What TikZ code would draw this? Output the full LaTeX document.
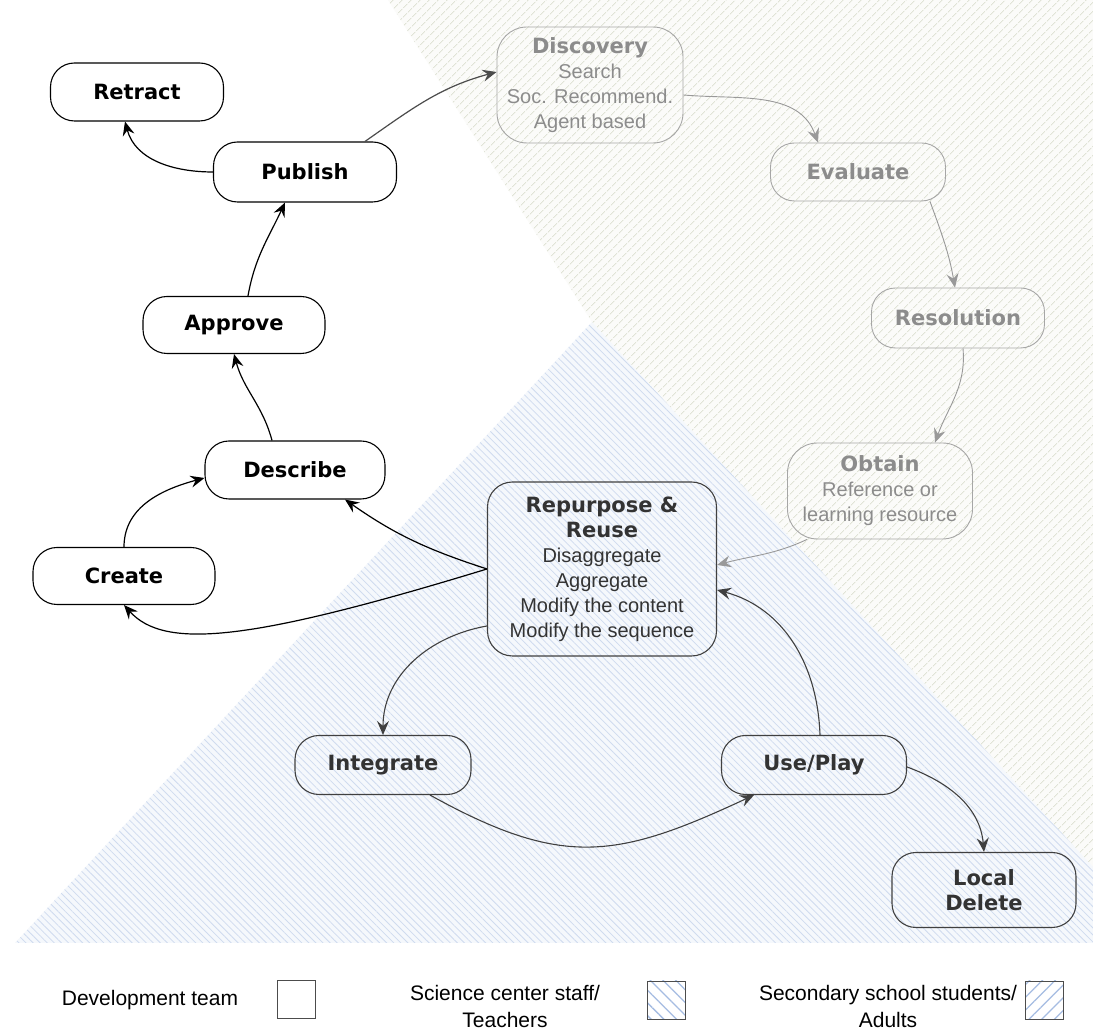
\documentclass[tikz,border=0pt]{standalone}
\usepackage{fontspec}
\setmainfont{Liberation Sans}
\newfontfamily\headfont{DejaVu Sans}
\usetikzlibrary{arrows.meta, patterns.meta}

\definecolor{sagebg}{RGB}{251,251,249}
\definecolor{sageline}{RGB}{224,227,214}
\definecolor{bluebg}{RGB}{245,248,252}
\definecolor{blueline}{RGB}{207,219,239}
\definecolor{keyline}{RGB}{165,188,226}

\newcommand{\hd}[1]{{\headfont\bfseries\fontsize{21}{25}\selectfont #1}}

\begin{document}
\begin{tikzpicture}[
            x = 1pt, y = 1pt, % one unit = one pixel of the sketch
            > = {Stealth[length=14pt, width=12pt, inset=5pt]}, % arrow head style
            semithick % line style
        ]

        \tikzstyle{every node}=[font=\fontsize{20}{25}\selectfont]
        \tikzstyle{stage}=[
            draw = black,
            line width = 1.1pt,
            rounded corners = 24pt,
            minimum width = 180pt,
            minimum height = 58pt,
            inner sep = 6pt,
            align = center
        ]
        \tikzstyle{reuse stage}=[stage, draw=black!75, text=black!80]
        \tikzstyle{faded stage}=[stage, draw=black!35, text=black!45, line width=0.9pt]
        \tikzstyle{flow}=[->, line width=1.2pt, black]
        \tikzstyle{reuse flow}=[->, line width=1.1pt, black!75]
        \tikzstyle{faded flow}=[->, line width=0.9pt, black!40]
        \tikzstyle{keybox}=[draw=black!70, line width=0.8pt, minimum size=38pt, inner sep=0pt]
        \tikzstyle{keytext}=[align=center, font=\fontsize{21}{27}\selectfont]

        \useasboundingbox (0,0) rectangle (1093,1030);
        \fill[white] (0,0) rectangle (1093,1030);

        % audience regions
        \fill[sagebg, postaction={pattern={Lines[angle=45, distance=6.5pt, line width=0.9pt]}, pattern color=sageline}]
            (388,1030) -- (1093,1030) -- (1093,163) -- (592,708) -- cycle;
        \fill[bluebg, postaction={pattern={Lines[angle=-45, distance=5pt, line width=0.8pt]}, pattern color=blueline}]
            (592,708) -- (1093,163) -- (1093,87) -- (15,87) -- cycle;

        % development team
        \node[stage, minimum width=173pt] (Retract) at (137,938) {\hd{Retract}};
        \node[stage, minimum width=183pt, minimum height=60pt] (Publish) at (305,858) {\hd{Publish}};
        \node[stage, minimum width=182pt, minimum height=57pt] (Approve) at (234,705) {\hd{Approve}};
        \node[stage] (Describe) at (295,560) {\hd{Describe}};
        \node[stage, minimum width=182pt, minimum height=57pt] (Create) at (124,454) {\hd{Create}};

        % secondary school students / adults
        \node[faded stage, minimum width=186pt, minimum height=116pt, rounded corners=30pt] (Discovery) at (590,945)
            {\hd{Discovery}\\Search\\Soc. Recommend.\\Agent based};
        \node[faded stage, minimum width=175pt] (Evaluate) at (858,858) {\hd{Evaluate}};
        \node[faded stage, minimum width=173pt, minimum height=60pt] (Resolution) at (958,712) {\hd{Resolution}};
        \node[faded stage, minimum width=185pt, minimum height=96pt, rounded corners=30pt] (Obtain) at (880,539)
            {\hd{Obtain}\\Reference or\\learning resource};

        % science center staff / teachers
        \node[reuse stage, minimum width=229pt, minimum height=174pt, rounded corners=25pt] (Repurpose) at (602,461)
            {\hd{Repurpose \&}\\\hd{Reuse}\\Disaggregate\\Aggregate\\Modify the content\\Modify the sequence};
        \node[reuse stage, minimum width=176pt, minimum height=59pt] (Integrate) at (383,265) {\hd{Integrate}};
        \node[reuse stage, minimum width=185pt, minimum height=59pt] (UsePlay) at (814,265) {\hd{Use/Play}};
        \node[reuse stage, minimum width=184pt, minimum height=75pt] (LocalDelete) at (984,140) {\hd{Local}\\\hd{Delete}};

        \path (Publish.west) edge[flow, out=180, in=-75] ([xshift=-12pt]Retract.south);
        \path ([xshift=14pt]Approve.north) edge[flow, out=80, in=-115] ([xshift=-20pt]Publish.south);
        \path ([xshift=-23pt]Describe.north) edge[flow, out=105, in=-75] (Approve.south);
        \path (Create.north) edge[flow, out=90, in=195] ([yshift=-8pt]Describe.west);
        \path (Repurpose.west) edge[flow, out=162, in=-35] ([xshift=50pt]Describe.south);
        \draw[flow] (Repurpose.west) .. controls +(197:250) and +(-48:60) .. (Create.south);
        \path ([xshift=60pt]Publish.north) edge[flow, black!70, out=35, in=195] ([yshift=13pt]Discovery.west);

        \path ([yshift=-10pt]Discovery.east) edge[faded flow, out=-5, in=110] ([xshift=-40pt]Evaluate.north);
        \path ([xshift=72pt]Evaluate.south) edge[faded flow, out=-70, in=100] ([xshift=-3pt]Resolution.north);
        \path ([xshift=5pt]Resolution.south) edge[faded flow, out=-85, in=70] ([xshift=55pt]Obtain.north);
        \path ([xshift=-73pt]Obtain.south) edge[faded flow, out=-155, in=15] ([yshift=4pt]Repurpose.east);

        \path ([yshift=-57pt]Repurpose.west) edge[reuse flow, out=190, in=90] (Integrate.north);
        \path ([xshift=47pt]Integrate.south) edge[reuse flow, out=-29, in=-155, looseness=1.2] ([xshift=-60pt]UsePlay.south);
        \path ([xshift=6pt]UsePlay.north) edge[reuse flow, out=92, in=-15] ([yshift=-21pt]Repurpose.east);
        \path ([yshift=-2pt]UsePlay.east) edge[reuse flow, out=-20, in=95] (LocalDelete.north);

        % legend
        \node[keytext] (DevKey) at (150,30) {Development team};
        \node[keybox] (DevBox) at (296,31) {};
        \node[keytext] (StaffKey) at (505,24) {Science center staff/\\Teachers};
        \node[keybox, pattern={Lines[angle=-45, distance=9pt, line width=1.3pt]}, pattern color=keyline] (StaffBox) at (666,30) {};
        \node[keytext] (PupilKey) at (888,24) {Secondary school students/\\Adults};
        \node[keybox, pattern={Lines[angle=45, distance=9pt, line width=1.3pt]}, pattern color=keyline] (PupilBox) at (1044,30) {};

        %\draw[red, dashed] (0,87) -- (1093,87);
    \end{tikzpicture}
\end{document}
